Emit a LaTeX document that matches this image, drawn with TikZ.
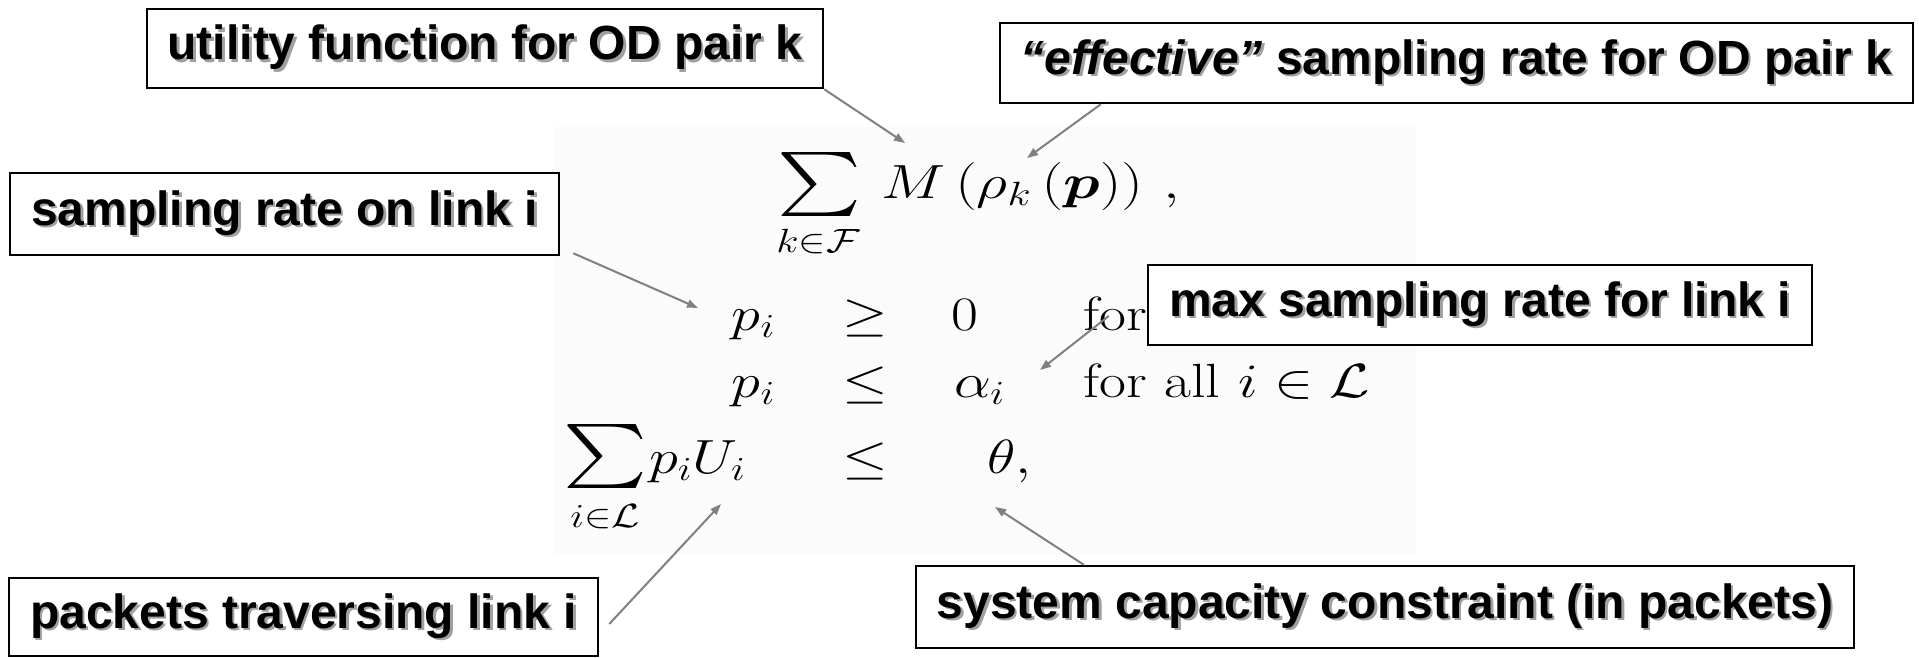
\RequirePackage{fix-cm}
\documentclass[tikz,border=0pt]{standalone}
\usepackage{amsmath}
\usepackage{graphicx}
\usepackage{fontspec}
\newfontfamily\boxfont{Liberation Sans}
\usetikzlibrary{arrows.meta}
\definecolor{arrowgray}{RGB}{128,128,128}
\definecolor{shadowgray}{RGB}{160,160,160}
\definecolor{panelgray}{RGB}{251,251,251}
\newcommand\shadowed[1]{\rlap{\kern2.5pt\raisebox{-2.5pt}{\textcolor{shadowgray}{#1}}}#1}
\newcommand\mathpiece[1]{\scalebox{1.22}[1]{\fontsize{48}{58}\selectfont #1}}
\newcommand\widepiece[1]{\scalebox{1.27}[1]{\fontsize{48}{58}\selectfont #1}}
\newcommand\bigsumglyph{\resizebox*{84pt}{64pt}{$\textstyle\sum$}}
\tikzset{
  labelbox/.style={draw=black, line width=2.5pt, fill=white, inner sep=0pt,
    font=\boxfont\bfseries\fontsize{48}{58}\selectfont, align=center},
  pointer/.style={draw=arrowgray, line width=2pt, -{Triangle[length=11pt,width=8pt]}},
  mathtext/.style={inner sep=0pt, outer sep=0pt}
}
\begin{document}
\begin{tikzpicture}[x=1pt,y=-1pt]
\useasboundingbox (0,0) rectangle (1919,657);
\fill[white] (0,0) rectangle (1919,657);
\fill[panelgray] (554,127) rectangle (1416,554);

% objective
\node[mathtext] (sumA) at (819,184.5) {\bigsumglyph};
\node[mathtext, anchor=base] (subA) at (818,252) {\mathpiece{$\scriptstyle k\in\mathcal{F}$}};
\node[mathtext, anchor=base west] (obj) at (881,198)
  {\widepiece{$M\left(\rho_k\left(\boldsymbol{p}\right)\right)\,,$}};
% constraint 1
\node[mathtext, anchor=base east] (pa) at (775,330) {\mathpiece{$p_i$}};
\node[mathtext, anchor=base] (ra) at (865,330) {\mathpiece{$\geq$}};
\node[mathtext, anchor=base west] (za) at (951,330) {\mathpiece{$0$}};
\node[mathtext, anchor=base west] (fa) at (1083,330) {\mathpiece{for all $i\in\mathcal{L}$}};
% constraint 2
\node[mathtext, anchor=base east] (pb) at (775,397) {\mathpiece{$p_i$}};
\node[mathtext, anchor=base] (rb) at (865,397) {\mathpiece{$\leq$}};
\node[mathtext, anchor=base west] (ab) at (954,397) {\mathpiece{$\alpha_i$}};
\node[mathtext, anchor=base west] (fb) at (1083,397) {\mathpiece{for all $i\in\mathcal{L}$}};
% constraint 3
\node[mathtext] (sumC) at (605,456) {\bigsumglyph};
\node[mathtext, anchor=base] (subC) at (605,527) {\mathpiece{$\scriptstyle i\in\mathcal{L}$}};
\node[mathtext, anchor=base west] (sc) at (649,473) {\mathpiece{$p_iU_i$}};
\node[mathtext, anchor=base] (rc) at (865,473) {\mathpiece{$\leq$}};
\node[mathtext, anchor=base west] (tc) at (987,473) {\mathpiece{$\theta,$}};

% label boxes
\node[labelbox, minimum width=676pt, minimum height=79pt] (utility) at (485,48.5)
  {\shadowed{utility function for OD pair k}};
\node[labelbox, minimum width=913pt, minimum height=80pt] (effective) at (1456.5,63)
  {\shadowed{\textit{“effective”} sampling rate for OD pair k}};
\node[labelbox, minimum width=549pt, minimum height=82pt] (rate) at (284.5,214)
  {\shadowed{sampling rate on link i}};
\node[labelbox, minimum width=664pt, minimum height=80pt] (maxrate) at (1480,305)
  {\shadowed{max sampling rate for link i}};
\node[labelbox, minimum width=589pt, minimum height=78pt] (packets) at (303.5,617)
  {\shadowed{packets traversing link i}};
\node[labelbox, minimum width=938pt, minimum height=82pt] (capacity) at (1385,607)
  {\shadowed{system capacity constraint (in packets)}};

% arrow targets
\coordinate (tM) at (905,143);
\coordinate (tRho) at (1027,158);
\coordinate (tP) at (698,308);
\coordinate (tAlpha) at (1040,370);
\coordinate (tU) at (721,504);
\coordinate (tTheta) at (995,507);

\draw[pointer] (utility.south east) -- (tM);
\draw[pointer] ([xshift=102pt]effective.south west) -- (tRho);
\draw[pointer] ([xshift=13pt,yshift=3pt]rate.south east) -- (tP);
\draw[pointer] ([xshift=-38pt,yshift=-11pt]maxrate.west) -- (tAlpha);
\draw[pointer] ([xshift=10pt,yshift=-7pt]packets.east) -- (tU);
\draw[pointer] ([xshift=169pt]capacity.north west) -- (tTheta);
\end{tikzpicture}
\end{document}
